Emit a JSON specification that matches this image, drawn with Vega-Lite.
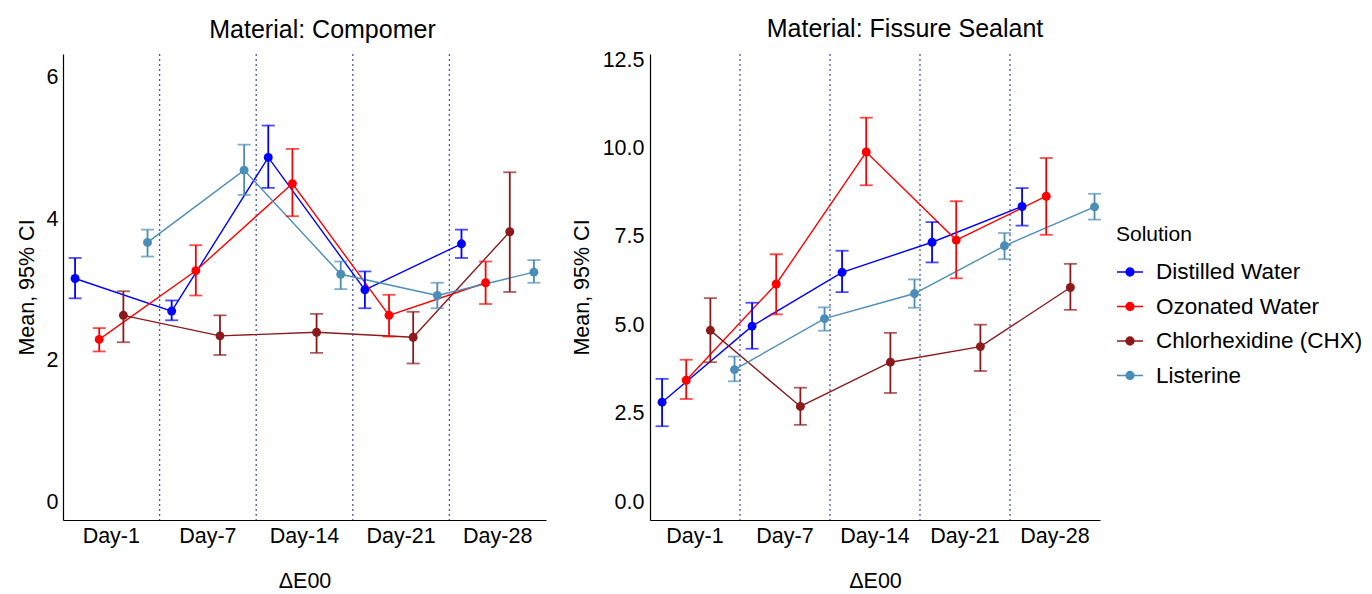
{
  "$schema": "https://vega.github.io/schema/vega-lite/v6.json",
  "background": "white",
  "padding": {"left": 16, "top": 17, "right": 5, "bottom": 2},
  "spacing": 25,
  "config": {
    "font": "Liberation Sans",
    "view": {"stroke": null},
    "axis": {"domainColor": "black", "domainWidth": 1.2, "ticks": false, "grid": false, "labelColor": "black", "labelFontSize": 21.5, "titleFontSize": 21.5, "titleFontWeight": "normal", "titleColor": "black", "labelFont": "Liberation Sans", "titleFont": "Liberation Sans"},
    "title": {"fontSize": 25, "fontWeight": "normal", "font": "Liberation Sans", "color": "black", "anchor": "middle"},
    "legend": {"titleFontSize": 21, "titleFontWeight": "normal", "labelFontSize": 22.5, "titleColor": "black", "labelColor": "black", "labelLimit": 0, "titlePadding": 13, "symbolType": "M-1,0L1,0M-0.3,0a0.3,0.3 0 1,0 0.6,0a0.3,0.3 0 1,0 -0.6,0", "symbolSize": 676, "symbolStrokeWidth": 1.5, "symbolOpacity": 1, "rowPadding": 8.5, "labelOffset": 12}
  },
  "datasets": {
    "compomer": [
      {"Day": "Day-1", "Solution": "Distilled Water", "mean": 3.16, "lo": 2.88, "hi": 3.45},
      {"Day": "Day-1", "Solution": "Ozonated Water", "mean": 2.30, "lo": 2.13, "hi": 2.46},
      {"Day": "Day-1", "Solution": "Chlorhexidine (CHX)", "mean": 2.64, "lo": 2.26, "hi": 2.98},
      {"Day": "Day-1", "Solution": "Listerine", "mean": 3.67, "lo": 3.47, "hi": 3.85},
      {"Day": "Day-7", "Solution": "Distilled Water", "mean": 2.70, "lo": 2.57, "hi": 2.85},
      {"Day": "Day-7", "Solution": "Ozonated Water", "mean": 3.27, "lo": 2.92, "hi": 3.63},
      {"Day": "Day-7", "Solution": "Chlorhexidine (CHX)", "mean": 2.35, "lo": 2.08, "hi": 2.64},
      {"Day": "Day-7", "Solution": "Listerine", "mean": 4.69, "lo": 4.34, "hi": 5.05},
      {"Day": "Day-14", "Solution": "Distilled Water", "mean": 4.87, "lo": 4.44, "hi": 5.32},
      {"Day": "Day-14", "Solution": "Ozonated Water", "mean": 4.50, "lo": 4.04, "hi": 4.99},
      {"Day": "Day-14", "Solution": "Chlorhexidine (CHX)", "mean": 2.40, "lo": 2.11, "hi": 2.66},
      {"Day": "Day-14", "Solution": "Listerine", "mean": 3.22, "lo": 3.01, "hi": 3.40},
      {"Day": "Day-21", "Solution": "Distilled Water", "mean": 3.00, "lo": 2.74, "hi": 3.26},
      {"Day": "Day-21", "Solution": "Ozonated Water", "mean": 2.64, "lo": 2.34, "hi": 2.93},
      {"Day": "Day-21", "Solution": "Chlorhexidine (CHX)", "mean": 2.33, "lo": 1.96, "hi": 2.69},
      {"Day": "Day-21", "Solution": "Listerine", "mean": 2.92, "lo": 2.74, "hi": 3.10},
      {"Day": "Day-28", "Solution": "Distilled Water", "mean": 3.65, "lo": 3.45, "hi": 3.85},
      {"Day": "Day-28", "Solution": "Ozonated Water", "mean": 3.10, "lo": 2.80, "hi": 3.40},
      {"Day": "Day-28", "Solution": "Chlorhexidine (CHX)", "mean": 3.82, "lo": 2.97, "hi": 4.66},
      {"Day": "Day-28", "Solution": "Listerine", "mean": 3.25, "lo": 3.10, "hi": 3.42}
    ],
    "fissure": [
      {"Day": "Day-1", "Solution": "Distilled Water", "mean": 2.83, "lo": 2.15, "hi": 3.49},
      {"Day": "Day-1", "Solution": "Ozonated Water", "mean": 3.45, "lo": 2.92, "hi": 4.03},
      {"Day": "Day-1", "Solution": "Chlorhexidine (CHX)", "mean": 4.86, "lo": 3.96, "hi": 5.77},
      {"Day": "Day-1", "Solution": "Listerine", "mean": 3.75, "lo": 3.42, "hi": 4.12},
      {"Day": "Day-7", "Solution": "Distilled Water", "mean": 4.98, "lo": 4.34, "hi": 5.64},
      {"Day": "Day-7", "Solution": "Ozonated Water", "mean": 6.17, "lo": 5.31, "hi": 7.01},
      {"Day": "Day-7", "Solution": "Chlorhexidine (CHX)", "mean": 2.71, "lo": 2.19, "hi": 3.24},
      {"Day": "Day-7", "Solution": "Listerine", "mean": 5.19, "lo": 4.85, "hi": 5.51},
      {"Day": "Day-14", "Solution": "Distilled Water", "mean": 6.50, "lo": 5.94, "hi": 7.11},
      {"Day": "Day-14", "Solution": "Ozonated Water", "mean": 9.90, "lo": 8.96, "hi": 10.87},
      {"Day": "Day-14", "Solution": "Chlorhexidine (CHX)", "mean": 3.96, "lo": 3.09, "hi": 4.79},
      {"Day": "Day-14", "Solution": "Listerine", "mean": 5.90, "lo": 5.50, "hi": 6.30},
      {"Day": "Day-21", "Solution": "Distilled Water", "mean": 7.35, "lo": 6.78, "hi": 7.92},
      {"Day": "Day-21", "Solution": "Ozonated Water", "mean": 7.41, "lo": 6.33, "hi": 8.51},
      {"Day": "Day-21", "Solution": "Chlorhexidine (CHX)", "mean": 4.40, "lo": 3.71, "hi": 5.02},
      {"Day": "Day-21", "Solution": "Listerine", "mean": 7.25, "lo": 6.87, "hi": 7.61},
      {"Day": "Day-28", "Solution": "Distilled Water", "mean": 8.36, "lo": 7.82, "hi": 8.88},
      {"Day": "Day-28", "Solution": "Ozonated Water", "mean": 8.65, "lo": 7.56, "hi": 9.73},
      {"Day": "Day-28", "Solution": "Chlorhexidine (CHX)", "mean": 6.07, "lo": 5.44, "hi": 6.74},
      {"Day": "Day-28", "Solution": "Listerine", "mean": 8.35, "lo": 7.99, "hi": 8.72}
    ],
    "seps": [
      {"Day": "Day-1"}, {"Day": "Day-7"}, {"Day": "Day-14"}, {"Day": "Day-21"}
    ]
  },
  "hconcat": [
    {
      "width": 483,
      "height": 466,
      "title": {"text": "Material: Compomer", "offset": 10, "dx": 18},
      "encoding": {
        "x": {"field": "Day", "type": "nominal", "sort": ["Day-1", "Day-7", "Day-14", "Day-21", "Day-28"], "scale": {"domain": ["Day-1", "Day-7", "Day-14", "Day-21", "Day-28"], "paddingInner": 0, "paddingOuter": 0}, "axis": {"labelAngle": 0, "title": "ΔE00", "labelPadding": 5, "titlePadding": 24}}
      },
      "layer": [
        {
          "data": {"name": "seps"},
          "mark": {"type": "rule", "color": "#4a55b0", "strokeDash": [2, 3], "strokeWidth": 1.3},
          "encoding": {"x": {"field": "Day", "type": "nominal", "bandPosition": 1}}
        },
        {
          "data": {"name": "compomer"},
          "encoding": {
            "xOffset": {"field": "Solution", "type": "nominal", "sort": ["Distilled Water", "Ozonated Water", "Chlorhexidine (CHX)", "Listerine"], "scale": {"paddingInner": 0, "paddingOuter": 0}},
            "y": {"field": "mean", "type": "quantitative", "scale": {"domain": [-0.25, 6.33], "nice": false, "zero": false}, "axis": {"values": [0, 2, 4, 6], "format": "d", "title": "Mean, 95% CI", "labelPadding": 5, "titlePadding": 8}},
            "color": {"field": "Solution", "type": "nominal", "sort": ["Distilled Water", "Ozonated Water", "Chlorhexidine (CHX)", "Listerine"], "scale": {"domain": ["Distilled Water", "Ozonated Water", "Chlorhexidine (CHX)", "Listerine"], "range": ["#0000FF", "#FF0000", "#8B1A1A", "#4A8DB7"]}}
          },
          "layer": [
            {"mark": {"type": "line", "strokeWidth": 1.4}},
            {"mark": {"type": "rule", "strokeWidth": 1.8}, "encoding": {"y": {"field": "lo", "type": "quantitative"}, "y2": {"field": "hi"}}},
            {"mark": {"type": "tick", "size": 13, "thickness": 1.8}, "encoding": {"y": {"field": "lo", "type": "quantitative"}}},
            {"mark": {"type": "tick", "size": 13, "thickness": 1.8}, "encoding": {"y": {"field": "hi", "type": "quantitative"}}},
            {"mark": {"type": "point", "filled": true, "opacity": 1, "size": 80}}
          ]
        }
      ]
    },
    {
      "width": 450,
      "height": 466,
      "title": {"text": "Material: Fissure Sealant", "offset": 7, "dx": 30},
      "encoding": {
        "x": {"field": "Day", "type": "nominal", "sort": ["Day-1", "Day-7", "Day-14", "Day-21", "Day-28"], "scale": {"domain": ["Day-1", "Day-7", "Day-14", "Day-21", "Day-28"], "paddingInner": 0, "paddingOuter": 0}, "axis": {"labelAngle": 0, "title": "ΔE00", "labelPadding": 5, "titlePadding": 24}}
      },
      "layer": [
        {
          "data": {"name": "seps"},
          "mark": {"type": "rule", "color": "#4a55b0", "strokeDash": [2, 3], "strokeWidth": 1.3},
          "encoding": {"x": {"field": "Day", "type": "nominal", "bandPosition": 1}}
        },
        {
          "data": {"name": "fissure"},
          "encoding": {
            "xOffset": {"field": "Solution", "type": "nominal", "sort": ["Distilled Water", "Ozonated Water", "Chlorhexidine (CHX)", "Listerine"], "scale": {"paddingInner": 0, "paddingOuter": 0}},
            "y": {"field": "mean", "type": "quantitative", "scale": {"domain": [-0.5, 12.67], "nice": false, "zero": false}, "axis": {"values": [0, 2.5, 5, 7.5, 10, 12.5], "format": ".1f", "title": "Mean, 95% CI", "labelPadding": 6, "titlePadding": 9}},
            "color": {"field": "Solution", "type": "nominal", "sort": ["Distilled Water", "Ozonated Water", "Chlorhexidine (CHX)", "Listerine"], "scale": {"domain": ["Distilled Water", "Ozonated Water", "Chlorhexidine (CHX)", "Listerine"], "range": ["#0000FF", "#FF0000", "#8B1A1A", "#4A8DB7"]}, "legend": {"title": "Solution", "orient": "none", "legendX": 1053, "legendY": 170}}
          },
          "layer": [
            {"mark": {"type": "line", "strokeWidth": 1.4}},
            {"mark": {"type": "rule", "strokeWidth": 1.8}, "encoding": {"y": {"field": "lo", "type": "quantitative"}, "y2": {"field": "hi"}}},
            {"mark": {"type": "tick", "size": 13, "thickness": 1.8}, "encoding": {"y": {"field": "lo", "type": "quantitative"}}},
            {"mark": {"type": "tick", "size": 13, "thickness": 1.8}, "encoding": {"y": {"field": "hi", "type": "quantitative"}}},
            {"mark": {"type": "point", "filled": true, "opacity": 1, "size": 80}}
          ]
        }
      ]
    }
  ]
}
